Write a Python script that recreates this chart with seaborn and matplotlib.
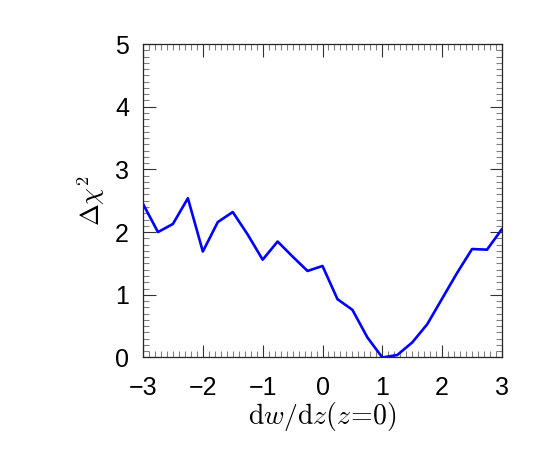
import numpy as np
import pandas as pd
import matplotlib
matplotlib.use("Agg")
import matplotlib.pyplot as plt
import seaborn as sns
from matplotlib.ticker import MultipleLocator

# slope of w(z) at z=0 and the chi-square difference
dwdz = [-3.0, -2.75, -2.5, -2.25, -2.0, -1.75, -1.5, -1.25, -1.0, -0.75, -0.5, -0.25,
        0.0, 0.25, 0.5, 0.75, 1.0, 1.25, 1.5, 1.75, 2.0, 2.25, 2.5, 2.75, 3.0]
dchi2 = [2.45, 2.00, 2.13, 2.54, 1.69, 2.16, 2.32, 1.96, 1.56, 1.85, 1.61, 1.38,
         1.46, 0.93, 0.76, 0.32, 0.00, 0.04, 0.24, 0.53, 0.94, 1.35, 1.73, 1.72, 2.05]

x_ticks = [-3, -2, -1, 0, 1, 2, 3]
y_ticks = [0, 1, 2, 3, 4, 5]

df = pd.DataFrame({"dwdz": dwdz, "dchi2": dchi2})

sns.set_style("ticks")
plt.rcParams["font.family"] = ["Liberation Sans", "DejaVu Sans"]
plt.rcParams["mathtext.fontset"] = "cm"
plt.rcParams["text.color"] = "black"
plt.rcParams["axes.labelcolor"] = "black"

fig = plt.figure(figsize=(5.45, 4.49), dpi=100)
ax = fig.add_axes([0.2624, 0.2038, 0.6587, 0.6982])

sns.lineplot(data=df, x="dwdz", y="dchi2", color="#0000ff", linewidth=1.9, ax=ax)

ax.set_xlim(-3, 3)
ax.set_ylim(0, 5)
ax.set_xticks(x_ticks)
ax.set_yticks(y_ticks)
ax.set_xticklabels([str(t).replace("-", "\u2212") for t in x_ticks])
ax.set_yticklabels([str(t) for t in y_ticks])
ax.xaxis.set_minor_locator(MultipleLocator(0.1))
ax.yaxis.set_minor_locator(MultipleLocator(0.1))

ax.tick_params(which="both", direction="in", top=True, right=True,
               color="0.2", width=0.8, labelcolor="black")
ax.tick_params(which="minor", color="0.5")
ax.tick_params(which="major", length=9)
ax.tick_params(which="minor", length=4)
ax.tick_params(axis="x", which="major", pad=13, labelsize=18)
ax.tick_params(axis="y", which="major", pad=10, labelsize=18)
for s in ax.spines.values():
    s.set_color("0.15")
    s.set_linewidth(0.9)

ax.set_xlabel(r"$\mathrm{d}w/\mathrm{d}z(z\!=\!0)$", fontsize=20, labelpad=0)
ax.set_ylabel(r"$\Delta\chi^2$", fontsize=19, labelpad=6)

fig.savefig("out.png", dpi=100)
